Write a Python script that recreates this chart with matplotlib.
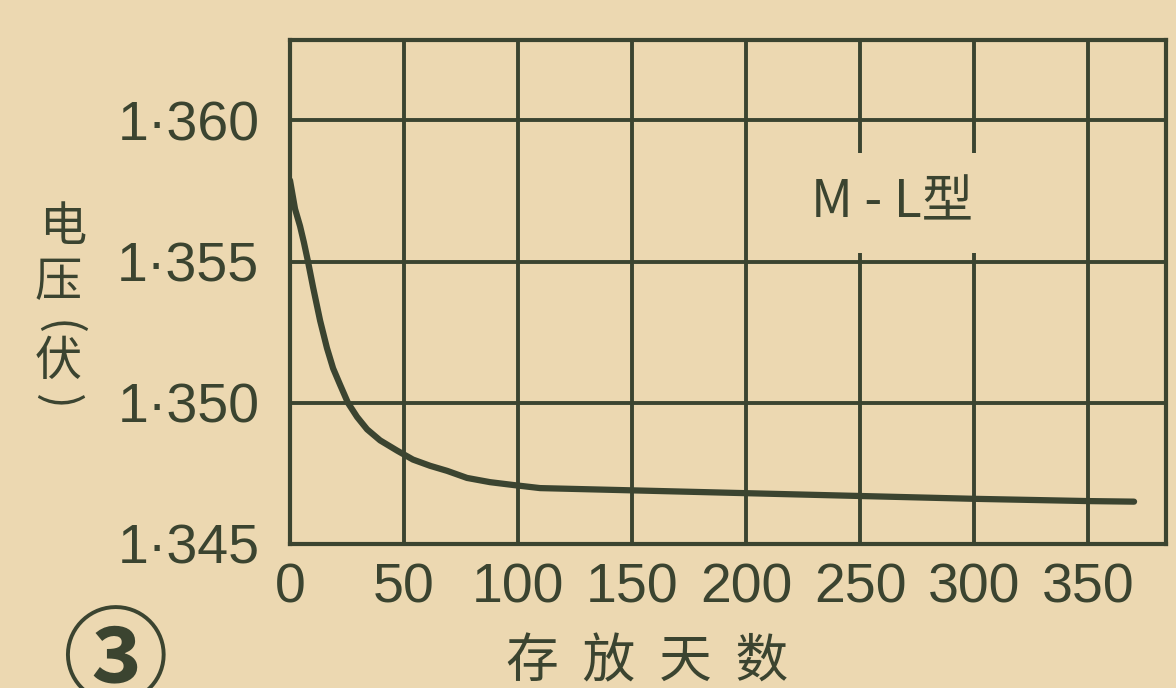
import matplotlib
matplotlib.use('Agg')
import matplotlib.pyplot as plt

# ---- data ----
days = [0, 2.2, 4.4, 6.1, 7.9, 10.1, 13.2, 16.2, 18.9, 21.9, 25.4, 29.4, 33.8, 39.5,
        46.9, 53.9, 61.4, 68.9, 77.6, 87.7, 97.8, 109.6, 150, 200, 250, 300, 350, 370]
voltage = [1.35788, 1.35687, 1.35626, 1.35568, 1.35500, 1.35410, 1.35291, 1.35194,
           1.35122, 1.35065, 1.35000, 1.34950, 1.34906, 1.34867, 1.34831, 1.34799,
           1.34777, 1.34759, 1.34734, 1.34719, 1.34709, 1.34698, 1.34690, 1.34680,
           1.34670, 1.34660, 1.34652, 1.34650]
x_ticks = [0, 50, 100, 150, 200, 250, 300, 350]
x_tick_labels = ['0', '50', '100', '150', '200', '250', '300', '350']
y_ticks = [1.345, 1.350, 1.355, 1.360]
y_tick_labels = ['1·345', '1·350', '1·355', '1·360']
x_label = '存  放  天  数'
y_label_chars = ['电', '压', '(', '伏', ')']
series_label = 'M - L型'
figure_number = '③'

BG = '#ecd8b1'
INK = '#3b4430'
CJK = ['Noto Sans CJK SC', 'DejaVu Sans']

plt.rcParams['font.family'] = ['Liberation Sans', 'Noto Sans CJK SC', 'DejaVu Sans']

W, H = 1176, 688
fig = plt.figure(figsize=(W / 100, H / 100), dpi=100, facecolor=BG)
ax = fig.add_axes([290 / W, 1 - 544 / H, 876 / W, 504 / H])
ax.set_facecolor(BG)
ax.set_xlim(0, 384)
ax.set_ylim(1.345, 1.36285)
ax.set_xticks(x_ticks)
ax.set_xticklabels(x_tick_labels)
ax.set_yticks(y_ticks)
ax.set_yticklabels(y_tick_labels)
ax.tick_params(axis='both', length=0, colors=INK, labelsize=40)
ax.tick_params(axis='x', pad=13)
ax.tick_params(axis='y', pad=22)
ax.grid(True, color=INK, lw=2.8)
for s in ax.spines.values():
    s.set_color(INK)
    s.set_linewidth(3)

ax.plot(days, voltage, color=INK, lw=4.5, solid_capstyle='round',
        solid_joinstyle='round', zorder=3)

ax.text(264, 1.35708, series_label, ha='center', va='center', fontsize=37,
        family=CJK, color=INK, zorder=4,
        bbox=dict(facecolor=BG, edgecolor='none', boxstyle='square,pad=0.45'))

# vertical axis title, stacked characters (parentheses turned for vertical writing)
ylab_pos = [(63, 228), (58, 283), (58, 328), (58, 362), (57, 402)]
ylab_rot = [0, 0, -90, 0, -90]
for ch, (px, py), rot in zip(y_label_chars, ylab_pos, ylab_rot):
    fig.text(px / W, 1 - py / H, ch, fontsize=34, family=CJK, color=INK,
             rotation=rot, ha='center', va='center')

ax.set_xlabel(x_label, fontsize=38, family=CJK, color=INK, va='center', ha='center')
ax.xaxis.set_label_coords(0.4075, -0.234)

fig.text(115 / W, 1 - 664 / H, figure_number, fontsize=76, family=CJK,
         fontweight='bold', color=INK, ha='center', va='center')

fig.savefig('out.png', dpi=100, facecolor=BG)
